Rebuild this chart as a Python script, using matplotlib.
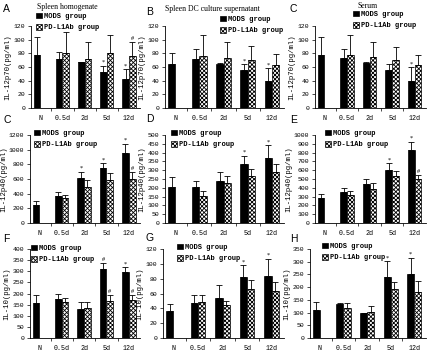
import matplotlib.pyplot as plt
import numpy as np

W, H = 428, 354

cats = ['N', '0.5d', '2d', '5d', '12d']

a_mods = [78, 72, 67, 52, 42]
a_mods_top = [104, 82, 68, 62, 57]
a_pd = [None, 80, 72, 80, 76]
a_pd_top = [None, 111, 96, 107, 97]

b_mods = [65, 72, 65, 55, 39]
b_mods_top = [80, 86, 66, 64, 58]
b_pd = [None, 76, 73, 70, 63]
b_pd_top = [None, 107, 96, 91, 79]

c_mods = [78, 73, 66, 55, 40]
c_mods_top = [104, 87, 67, 64, 60]
c_pd = [None, 77, 74, 70, 63]
c_pd_top = [None, 107, 96, 90, 78]

c2_mods = [250, 370, 615, 745, 960]
c2_mods_top = [300, 420, 700, 815, 1080]
c2_pd = [None, 345, 495, 585, 605]
c2_pd_top = [None, 385, 585, 680, 695]

d_mods = [205, 205, 237, 335, 372]
d_mods_top = [263, 240, 290, 382, 442]
d_pd = [None, 152, 225, 268, 292]
d_pd_top = [None, 182, 268, 308, 338]

e_mods = [280, 350, 445, 605, 830]
e_mods_top = [325, 395, 500, 680, 925]
e_pd = [None, 320, 390, 535, 500]
e_pd_top = [None, 365, 455, 590, 550]

f_mods = [157, 175, 130, 308, 298]
f_mods_top = [195, 200, 160, 337, 318]
f_pd = [None, 163, 135, 165, 172]
f_pd_top = [None, 178, 163, 193, 193]

g_mods = [37, 47, 54, 82, 84]
g_mods_top = [46, 58, 72, 98, 107]
g_pd = [None, 49, 45, 66, 64]
g_pd_top = [None, 58, 50, 78, 75]

h_mods = [110, 133, 97, 240, 253]
h_mods_top = [142, 137, 100, 302, 315]
h_pd = [None, 117, 102, 192, 182]
h_pd_top = [None, 138, 125, 220, 225]

panels = [
    ('A', 'IL-12p70(pg/ml)', 120, 20, a_mods, a_mods_top, a_pd, a_pd_top,
     ['', '', '', '*', '*'], ['', '', '', '', '#']),
    ('B', 'IL-12p70(pg/ml)', 120, 20, b_mods, b_mods_top, b_pd, b_pd_top,
     ['', '', '', '*', '*'], ['', '', '', '', '']),
    ('C', 'IL-12p70(pg/ml)', 120, 20, c_mods, c_mods_top, c_pd, c_pd_top,
     ['', '', '', '', '*'], ['', '', '', '', '']),
    ('C', 'IL-12p40(pg/ml)', 1200, 200, c2_mods, c2_mods_top, c2_pd, c2_pd_top,
     ['', '', '*', '*', '*'], ['', '', '', '', '#']),
    ('D', 'IL-12p40(pg/ml)', 500, 50, d_mods, d_mods_top, d_pd, d_pd_top,
     ['', '', '', '*', '*'], ['', '', '', '', '']),
    ('E', 'IL-12p40(pg/ml)', 1000, 100, e_mods, e_mods_top, e_pd, e_pd_top,
     ['', '', '', '*', '*'], ['', '', '', '', '#']),
    ('F', 'IL-10(pg/ml)', 400, 50, f_mods, f_mods_top, f_pd, f_pd_top,
     ['', '', '', '#', '*'], ['', '', '', '#', '#']),
    ('G', 'IL-10(pg/ml)', 120, 20, g_mods, g_mods_top, g_pd, g_pd_top,
     ['', '', '', '*', '*'], ['', '', '', '', '']),
    ('H', 'IL-10(pg/ml)', 350, 50, h_mods, h_mods_top, h_pd, h_pd_top,
     ['', '', '', '*', '*'], ['', '', '', '', '']),
]

titles = ['Spleen homogenate', 'Spleen DC culture supernatant', 'Serum']

# axes boxes in pixels: left, top, right, bottom
boxes = [
    (31, 26, 140, 108), (165, 26, 284, 108), (315, 26, 426, 108),
    (30, 135, 140, 223), (165, 135, 284, 223), (315, 135, 426, 223),
    (30, 249, 140, 338), (163, 249, 284, 338), (310, 249, 426, 338),
]
letter_pos = [(3, 9), (146, 12), (290, 9), (3, 120), (146, 119), (290, 120),
              (3, 239), (146, 238), (290, 239)]
title_pos = [(67, 7), (212, 9), (368, 6)]
legend_pos = [(36, 13), (220, 16), (353, 11), (34, 130), (171, 130), (325, 130),
              (31, 245), (177, 244), (322, 243)]

plt.rcParams['hatch.linewidth'] = 0.6
plt.rcParams['hatch.color'] = '#333333'

fig = plt.figure(figsize=(W / 100, H / 100), dpi=100)


def fx(x, y):
    return x / W, 1 - y / H


mono = 'Liberation Mono'
serif = 'Liberation Serif'

for i, (letter, ylab, ymax, ystep, mods, mtop, pd_, ptop, mm, pm) in enumerate(panels):
    l, t, r, b = boxes[i]
    ax = fig.add_axes([l / W, 1 - b / H, (r - l) / W, (b - t) / H])
    x = np.arange(len(cats))
    bw = 0.3
    xm = x - bw / 2
    ax.bar(xm, mods, bw, color='black', edgecolor='black', linewidth=0.5,
           label='MODS group', zorder=2)
    merr = [np.zeros(len(mods)), np.array(mtop) - np.array(mods)]
    ax.errorbar(xm, mods, yerr=merr, fmt='none', ecolor='black', elinewidth=0.6,
                capsize=2, capthick=0.6, zorder=3)
    xp = x[1:] + bw / 2
    pv = np.array(pd_[1:], dtype=float)
    pt = np.array(ptop[1:], dtype=float)
    ax.bar(xp, pv, bw, color='white', edgecolor='black', hatch='xxxxxxxx',
           linewidth=0.5, label='PD-L1Ab group', zorder=2)
    ax.errorbar(xp, pv, yerr=[np.zeros(len(pv)), pt - pv], fmt='none',
                ecolor='black', elinewidth=0.6, capsize=2, capthick=0.6, zorder=3)
    for j in range(len(cats)):
        if mm[j]:
            ax.text(xm[j], mtop[j] + ymax * 0.01, mm[j], ha='center', va='bottom',
                    fontsize=4.5, family=serif)
        if j > 0 and pm[j]:
            ax.text(x[j] + bw / 2, ptop[j] + ymax * 0.01, pm[j], ha='center',
                    va='bottom', fontsize=4.5, family=serif)
    ax.set_xlim(-0.42, 4.5)
    ax.set_ylim(0, ymax)
    ax.set_yticks(np.arange(0, ymax + 1, ystep))
    ax.set_xticks(np.arange(0.5, 4.5, 1))
    ax.set_xticklabels([])
    ax.set_xticks(x, minor=True)
    ax.set_xticklabels(cats, minor=True, fontsize=4.8, family=mono)
    ax.tick_params(axis='x', which='minor', length=0, pad=5)
    ax.tick_params(axis='x', which='major', length=2, width=0.5, direction='out')
    ax.tick_params(axis='y', length=2, width=0.5, labelsize=4.6, pad=2)
    for lab in ax.get_yticklabels():
        lab.set_family(mono)
    ax.spines['top'].set_visible(False)
    ax.spines['right'].set_visible(False)
    ax.spines['left'].set_linewidth(0.6)
    ax.spines['bottom'].set_linewidth(0.6)
    ax.set_ylabel(ylab, fontsize=5.2, family=mono, labelpad=1.5)
    ax.legend(loc='upper left', bbox_to_anchor=fx(*legend_pos[i]),
              bbox_transform=fig.transFigure, frameon=False,
              prop={'family': mono, 'size': 5.0, 'weight': 'bold'},
              handlelength=0.8, handleheight=0.8, handletextpad=0.4,
              labelspacing=0.6, borderpad=0, borderaxespad=0)
    fig.text(*fx(*letter_pos[i]), letter, fontsize=7.5, family='Liberation Sans',
             ha='left', va='center')

for k, tt in enumerate(titles):
    fig.text(*fx(*title_pos[k]), tt, fontsize=5.6, family=serif, ha='center',
             va='center')

fig.savefig('out.png', dpi=100)
